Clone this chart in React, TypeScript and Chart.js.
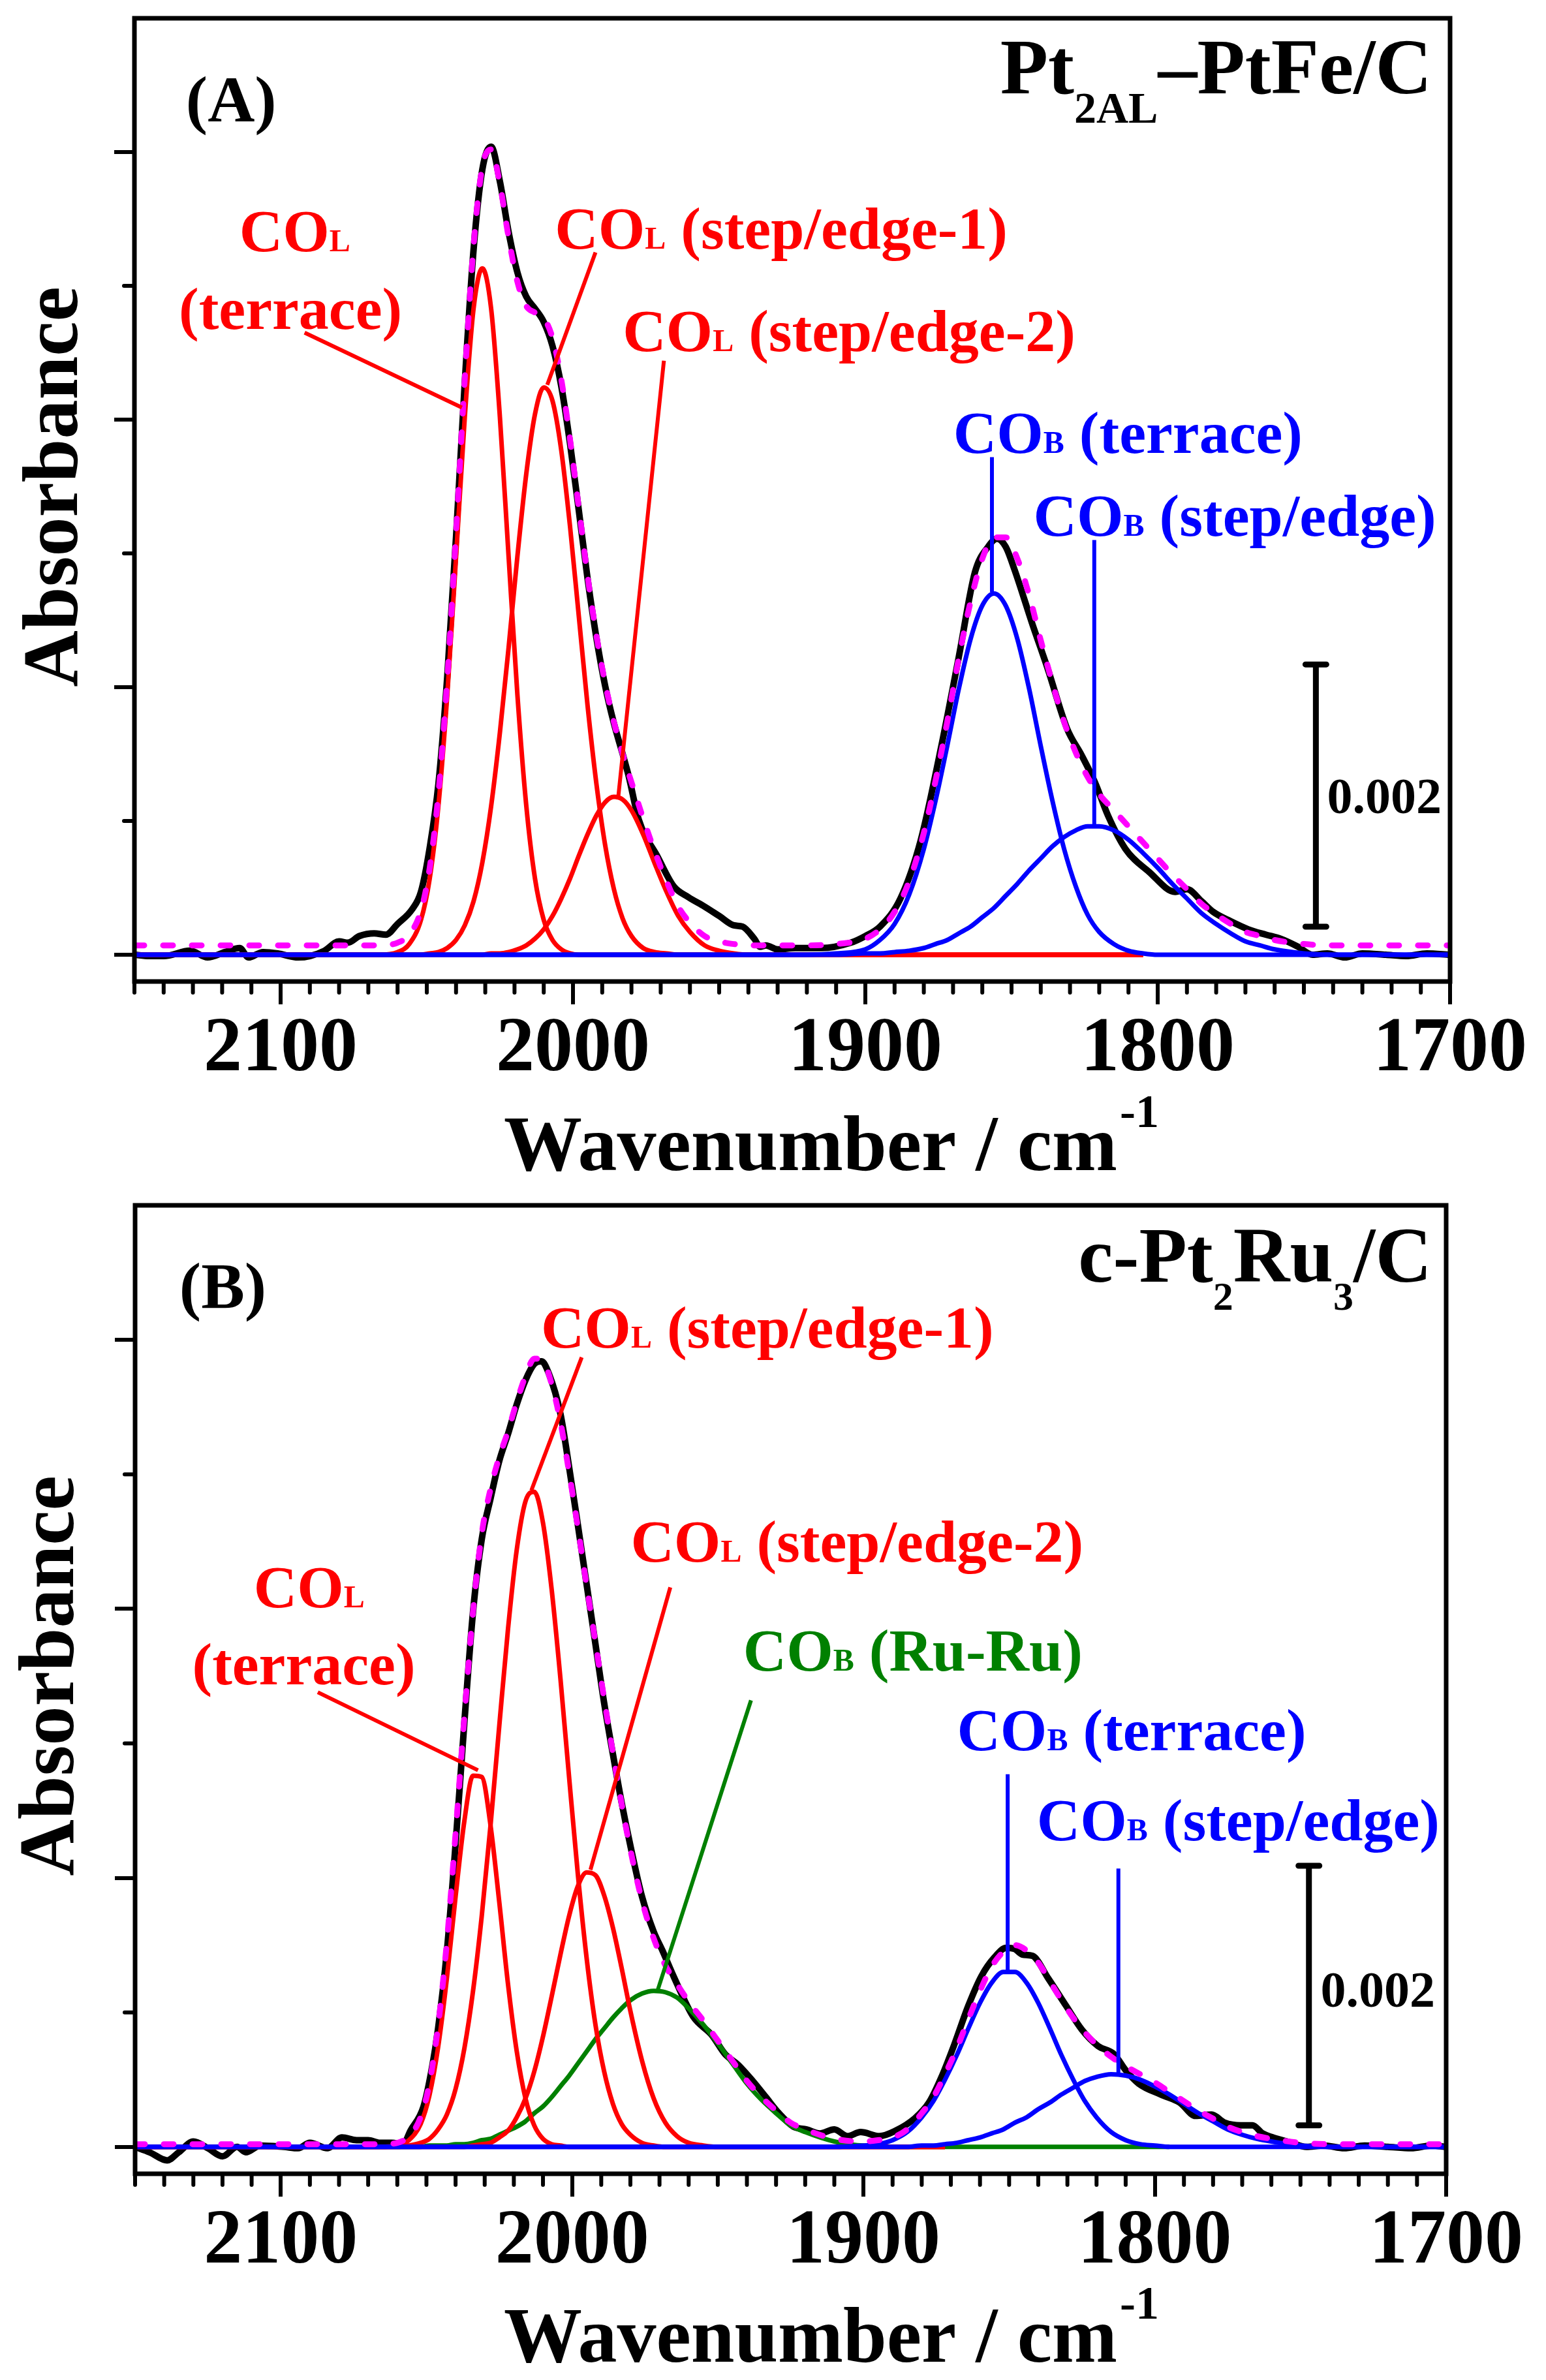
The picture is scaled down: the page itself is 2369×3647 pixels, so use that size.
import React, { useEffect, useRef } from "react";
import { Chart, registerables } from "chart.js";

Chart.register(...registerables);

const FONT = '"Liberation Serif", "Times New Roman", Times, serif';
const RED = "#ff0000";
const BLUE = "#0000ff";
const GREEN = "#008000";
const MAGENTA = "#ff00ff";
const BLACK = "#000000";

// ---------------- axis ticks ----------------
const xMajorTicks = [2100, 2000, 1900, 1800, 1700];
const yMajorTicks = [0, 2, 4, 6];
const yMinorTicks = [1, 3, 5];
const xMinorTicks: number[] = [];
for (let v = 1710; v <= 2150; v += 10) if (v % 100 !== 0) xMinorTicks.push(v);

// ---------------- Panel A : Pt2AL-PtFe/C (absorbance in units of 0.001) ----------------
const rawWaveA = [2150, 2145, 2140, 2131, 2125, 2119, 2114, 2111, 2106, 2101, 2094, 2090, 2085, 2080, 2077, 2073, 2068, 2064, 2060, 2055, 2052, 2049, 2046, 2043, 2040, 2037, 2034, 2031, 2028, 2025, 2022, 2019, 2016, 2013, 2010, 2007, 2004, 2001, 1998, 1995, 1992, 1989, 1986, 1983, 1981, 1977.5, 1971, 1965.5, 1960.5, 1955, 1950, 1945, 1942, 1938, 1936, 1934, 1930, 1924, 1915, 1905, 1900, 1895, 1888, 1881, 1874, 1868, 1862.5, 1858, 1855, 1852, 1849, 1843, 1837.5, 1831, 1826, 1821.5, 1817, 1811, 1803, 1794, 1790, 1785, 1781, 1775, 1769, 1763, 1758, 1752, 1747, 1742, 1736, 1730, 1722, 1715, 1708, 1700];
const rawAbsA = [0.00, -0.01, -0.01, 0.03, -0.02, 0.02, 0.05, -0.02, 0.02, 0.01, -0.02, -0.01, 0.03, 0.10, 0.09, 0.14, 0.16, 0.15, 0.23, 0.34, 0.47, 0.80, 1.28, 2.08, 3.12, 4.28, 5.27, 5.87, 6.04, 5.78, 5.40, 5.10, 4.92, 4.83, 4.73, 4.55, 4.25, 3.82, 3.32, 2.81, 2.37, 2.01, 1.73, 1.50, 1.34, 1.01, 0.73, 0.51, 0.43, 0.36, 0.29, 0.22, 0.21, 0.12, 0.06, 0.07, 0.04, 0.05, 0.05, 0.09, 0.14, 0.21, 0.42, 0.86, 1.56, 2.23, 2.86, 3.05, 3.11, 3.05, 2.88, 2.48, 2.13, 1.69, 1.49, 1.29, 1.04, 0.79, 0.62, 0.47, 0.49, 0.40, 0.32, 0.25, 0.19, 0.15, 0.12, 0.06, 0.00, 0.01, -0.02, 0.01, 0.00, -0.01, 0.01, 0.00];

const fitWaveA = [2150, 2120, 2090, 2075, 2066, 2060, 2056, 2052, 2049, 2046, 2043, 2040, 2037, 2034, 2031, 2028, 2025, 2022, 2019, 2016, 2013, 2010, 2007, 2004, 2001, 1998, 1995, 1992, 1989, 1986, 1983, 1980, 1976, 1972, 1968, 1964, 1960, 1955, 1950, 1945, 1940, 1930, 1920, 1910, 1900, 1895, 1890, 1885, 1880, 1876, 1872, 1868, 1864, 1860, 1856, 1852, 1848, 1844, 1840, 1836, 1832, 1828, 1824, 1820, 1815, 1810, 1805, 1800, 1795, 1790, 1785, 1780, 1775, 1770, 1765, 1760, 1750, 1740, 1730, 1720, 1700];
const fitAbsA = [0.07, 0.07, 0.07, 0.07, 0.07, 0.09, 0.15, 0.33, 0.65, 1.21, 2.06, 3.15, 4.31, 5.30, 5.89, 6.02, 5.76, 5.36, 5.03, 4.85, 4.80, 4.76, 4.61, 4.30, 3.85, 3.34, 2.83, 2.39, 2.03, 1.74, 1.50, 1.29, 1.02, 0.77, 0.55, 0.36, 0.24, 0.14, 0.10, 0.08, 0.07, 0.07, 0.07, 0.08, 0.12, 0.19, 0.32, 0.55, 0.91, 1.30, 1.74, 2.22, 2.64, 2.96, 3.12, 3.12, 2.96, 2.69, 2.35, 2.03, 1.74, 1.51, 1.33, 1.20, 1.08, 0.96, 0.84, 0.72, 0.60, 0.49, 0.38, 0.30, 0.23, 0.17, 0.14, 0.11, 0.08, 0.07, 0.07, 0.07, 0.07];

const terraceWaveA = [2150, 2066, 2060, 2056, 2052, 2049, 2046, 2043, 2040, 2037, 2034, 2031, 2028, 2025, 2022, 2019, 2016, 2013, 2010, 2007, 2004, 2001, 1998, 1805];
const terraceAbsA = [0, 0, 0.02, 0.08, 0.26, 0.57, 1.12, 1.94, 2.97, 4.02, 4.83, 5.13, 4.83, 4.02, 2.97, 1.94, 1.12, 0.57, 0.26, 0.11, 0.04, 0.01, 0, 0];

const step1WaveA = [2150, 2052, 2049, 2046, 2043, 2040, 2037, 2034, 2031, 2028, 2025, 2022, 2019, 2016, 2013, 2010, 2007, 2004, 2001, 1998, 1995, 1992, 1989, 1986, 1983, 1980, 1976, 1972, 1968, 1964, 1805];
const step1AbsA = [0, 0, 0.01, 0.02, 0.05, 0.11, 0.22, 0.40, 0.69, 1.11, 1.66, 2.30, 2.98, 3.59, 4.04, 4.24, 4.14, 3.77, 3.20, 2.53, 1.86, 1.28, 0.82, 0.49, 0.27, 0.14, 0.05, 0.02, 0.01, 0, 0];

const step2WaveA = [2150, 2031, 2028, 2025, 2022, 2019, 2016, 2013, 2010, 2007, 2004, 2001, 1998, 1995, 1992, 1989, 1986, 1983, 1980, 1976, 1972, 1968, 1964, 1960, 1955, 1950, 1945, 1940, 1805];
const step2AbsA = [0, 0, 0.01, 0.01, 0.02, 0.04, 0.07, 0.12, 0.19, 0.29, 0.42, 0.57, 0.74, 0.90, 1.04, 1.14, 1.18, 1.16, 1.08, 0.90, 0.68, 0.47, 0.29, 0.17, 0.07, 0.03, 0.01, 0, 0];

const bTerraceWaveA = [2150, 1920, 1910, 1900, 1895, 1890, 1885, 1880, 1876, 1872, 1868, 1864, 1860, 1856, 1852, 1848, 1844, 1840, 1836, 1832, 1828, 1824, 1820, 1815, 1810, 1805, 1800, 1790, 1700];
const bTerraceAbsA = [0, 0, 0.01, 0.04, 0.11, 0.23, 0.45, 0.79, 1.15, 1.56, 1.99, 2.36, 2.61, 2.70, 2.61, 2.36, 1.99, 1.56, 1.15, 0.79, 0.51, 0.30, 0.17, 0.08, 0.03, 0.01, 0, 0, 0];

const bStepWaveA = [2150, 1910, 1900, 1895, 1890, 1885, 1880, 1876, 1872, 1868, 1864, 1860, 1856, 1852, 1848, 1844, 1840, 1836, 1832, 1828, 1824, 1820, 1815, 1810, 1805, 1800, 1795, 1790, 1785, 1780, 1775, 1770, 1765, 1760, 1750, 1740, 1700];
const bStepAbsA = [0, 0, 0.01, 0.01, 0.02, 0.03, 0.05, 0.08, 0.11, 0.16, 0.21, 0.28, 0.35, 0.44, 0.53, 0.63, 0.72, 0.81, 0.88, 0.93, 0.96, 0.96, 0.93, 0.86, 0.76, 0.65, 0.53, 0.42, 0.31, 0.23, 0.16, 0.10, 0.07, 0.04, 0.01, 0, 0];

// ---------------- Panel B : c-Pt2Ru3/C ----------------
const rawWaveB = [2150, 2145, 2139, 2135, 2130, 2125, 2120, 2115, 2112, 2107, 2099, 2094, 2090, 2084, 2079, 2074, 2070, 2066, 2062, 2058, 2055.5, 2051, 2048, 2046, 2043, 2040, 2037, 2034, 2031, 2028, 2025, 2022, 2019, 2016, 2013, 2010.5, 2008, 2004, 2001, 1998, 1995, 1992, 1989, 1986, 1983, 1980, 1976, 1972, 1969, 1965, 1958.5, 1952, 1947.5, 1943, 1938, 1933.5, 1929, 1924, 1919.5, 1915, 1910, 1905.5, 1901, 1894.5, 1889, 1882.5, 1877.5, 1873, 1869, 1864, 1859.5, 1855, 1851, 1848, 1845.5, 1842, 1836.5, 1830.5, 1825, 1819.5, 1814, 1810, 1805.5, 1798, 1791.5, 1786, 1780.5, 1776, 1770.5, 1766.5, 1763, 1759.5, 1753, 1748, 1742, 1735, 1728, 1720, 1712, 1705, 1700];
const rawAbsB = [0.00, -0.04, -0.10, -0.04, 0.04, -0.01, -0.07, 0.00, -0.04, 0.01, 0.00, -0.01, 0.03, -0.01, 0.07, 0.05, 0.05, 0.03, 0.03, 0.02, 0.12, 0.30, 0.60, 0.88, 1.45, 2.25, 3.15, 3.98, 4.52, 4.82, 5.10, 5.30, 5.52, 5.70, 5.82, 5.84, 5.75, 5.45, 5.05, 4.62, 4.18, 3.74, 3.30, 2.92, 2.56, 2.24, 1.86, 1.60, 1.46, 1.26, 0.97, 0.83, 0.69, 0.61, 0.49, 0.37, 0.25, 0.15, 0.13, 0.10, 0.13, 0.08, 0.11, 0.08, 0.12, 0.21, 0.33, 0.53, 0.75, 1.05, 1.27, 1.41, 1.48, 1.47, 1.43, 1.42, 1.25, 1.05, 0.87, 0.75, 0.69, 0.57, 0.47, 0.39, 0.33, 0.23, 0.24, 0.18, 0.16, 0.16, 0.10, 0.07, 0.03, 0.00, 0.01, -0.01, 0.01, 0.00, -0.01, 0.01, 0.00];

const fitWaveB = [2150, 2120, 2090, 2075, 2066, 2060, 2056, 2052, 2049, 2046, 2043, 2040, 2037, 2034, 2031, 2028, 2025, 2022, 2019, 2016, 2013, 2010, 2007, 2004, 2001, 1998, 1995, 1992, 1989, 1986, 1983, 1980, 1976, 1972, 1968, 1964, 1960, 1955, 1950, 1945, 1940, 1935, 1930, 1925, 1920, 1910, 1900, 1895, 1890, 1885, 1880, 1876, 1872, 1868, 1864, 1860, 1856, 1852, 1848, 1844, 1840, 1836, 1832, 1828, 1824, 1820, 1815, 1810, 1805, 1800, 1795, 1790, 1785, 1780, 1775, 1770, 1765, 1760, 1750, 1740, 1730, 1720, 1700];
const fitAbsB = [0.02, 0.02, 0.02, 0.02, 0.02, 0.03, 0.08, 0.22, 0.47, 0.90, 1.52, 2.33, 3.19, 3.98, 4.56, 4.89, 5.13, 5.32, 5.54, 5.73, 5.86, 5.84, 5.67, 5.39, 5.01, 4.60, 4.17, 3.75, 3.33, 2.93, 2.55, 2.21, 1.83, 1.55, 1.35, 1.21, 1.08, 0.94, 0.79, 0.64, 0.49, 0.37, 0.27, 0.18, 0.13, 0.06, 0.04, 0.05, 0.07, 0.13, 0.25, 0.37, 0.54, 0.73, 0.95, 1.16, 1.34, 1.45, 1.50, 1.46, 1.37, 1.23, 1.09, 0.96, 0.85, 0.76, 0.67, 0.60, 0.54, 0.48, 0.41, 0.34, 0.27, 0.21, 0.15, 0.11, 0.08, 0.06, 0.03, 0.02, 0.02, 0.02, 0.02];

const terraceWaveB = [2150, 2066, 2060, 2056, 2052, 2049, 2046, 2043, 2040, 2037, 2034, 2031, 2028, 2025, 2022, 2019, 2016, 2013, 2010, 2007, 2004, 2001, 1872];
const terraceAbsB = [0, 0, 0.01, 0.05, 0.17, 0.38, 0.74, 1.25, 1.86, 2.42, 2.76, 2.75, 2.39, 1.82, 1.21, 0.71, 0.36, 0.16, 0.06, 0.02, 0.01, 0, 0];

const step1WaveB = [2150, 2060, 2056, 2052, 2049, 2046, 2043, 2040, 2037, 2034, 2031, 2028, 2025, 2022, 2019, 2016, 2013, 2010, 2007, 2004, 2001, 1998, 1995, 1992, 1989, 1986, 1983, 1980, 1976, 1972, 1968, 1872];
const step1AbsB = [0, 0, 0.01, 0.03, 0.06, 0.13, 0.24, 0.43, 0.73, 1.16, 1.72, 2.39, 3.13, 3.85, 4.44, 4.80, 4.87, 4.64, 4.14, 3.48, 2.74, 2.02, 1.40, 0.91, 0.56, 0.32, 0.17, 0.09, 0.03, 0.01, 0, 0];

const step2WaveB = [2150, 2037, 2034, 2031, 2028, 2025, 2022, 2019, 2016, 2013, 2010, 2007, 2004, 2001, 1998, 1995, 1992, 1989, 1986, 1983, 1980, 1976, 1972, 1968, 1964, 1960, 1955, 1950, 1872];
const step2AbsB = [0, 0, 0.01, 0.02, 0.03, 0.07, 0.12, 0.22, 0.36, 0.56, 0.82, 1.12, 1.43, 1.72, 1.94, 2.04, 2.02, 1.87, 1.63, 1.33, 1.01, 0.64, 0.36, 0.18, 0.08, 0.03, 0.01, 0, 0];

const ruWaveB = [2150, 2052, 2049, 2046, 2043, 2040, 2037, 2034, 2031, 2028, 2025, 2022, 2019, 2016, 2013, 2010, 2007, 2004, 2001, 1998, 1995, 1992, 1989, 1986, 1983, 1980, 1976, 1972, 1968, 1964, 1960, 1955, 1950, 1945, 1940, 1935, 1930, 1925, 1920, 1910, 1900, 1895, 1890, 1795];
const ruAbsB = [0, 0, 0.01, 0.01, 0.01, 0.02, 0.02, 0.03, 0.05, 0.06, 0.09, 0.12, 0.15, 0.19, 0.25, 0.30, 0.37, 0.45, 0.53, 0.62, 0.71, 0.80, 0.88, 0.96, 1.03, 1.09, 1.14, 1.16, 1.15, 1.11, 1.03, 0.91, 0.77, 0.62, 0.47, 0.35, 0.25, 0.16, 0.11, 0.04, 0.01, 0.01, 0, 0];

const bTerraceWaveB = [2150, 1910, 1900, 1895, 1890, 1885, 1880, 1876, 1872, 1868, 1864, 1860, 1856, 1852, 1848, 1844, 1840, 1836, 1832, 1828, 1824, 1820, 1815, 1810, 1805, 1800, 1795, 1700];
const bTerraceAbsB = [0, 0, 0.01, 0.02, 0.05, 0.11, 0.22, 0.34, 0.50, 0.68, 0.88, 1.07, 1.22, 1.30, 1.30, 1.22, 1.07, 0.88, 0.68, 0.50, 0.34, 0.22, 0.11, 0.05, 0.02, 0.01, 0, 0];

const bStepWaveB = [2150, 1885, 1880, 1876, 1872, 1868, 1864, 1860, 1856, 1852, 1848, 1844, 1840, 1836, 1832, 1828, 1824, 1820, 1815, 1810, 1805, 1800, 1795, 1790, 1785, 1780, 1775, 1770, 1765, 1760, 1750, 1740, 1700];
const bStepAbsB = [0, 0, 0.01, 0.01, 0.02, 0.03, 0.05, 0.07, 0.10, 0.13, 0.18, 0.22, 0.28, 0.33, 0.39, 0.44, 0.49, 0.52, 0.54, 0.53, 0.50, 0.45, 0.39, 0.32, 0.25, 0.19, 0.13, 0.09, 0.06, 0.04, 0.01, 0, 0];

// ---------------- presentation specs ----------------
type Piece = [string, number, number?];
type TextLabel = { x: number; y: number; color: string; pieces: Piece[]; align?: "left" | "right" };
type Leader = { color: string; from: [number, number]; to: [number, number] };
type LineSpec = { xs: number[]; ys: number[]; color: string; width: number; dash?: number[] };

const COL = (sub: string, rest: string): Piece[] => [["CO", 92], [sub, 48], [rest, 92]];
const FIT_W = 9;
const FIT_DASH = [15, 29];
const COMP_W = 7;
const RAW_W = 10;

const panelA = {
  top: 0, height: 1819, left: 206, right: 2222, areaTop: 28, bottom: 1504,
  yTitleX: 118, titleShiftY: -20, xTitleDY: 289,
  // drawn top-first
  lines: [
    { xs: fitWaveA, ys: fitAbsA, color: MAGENTA, width: FIT_W, dash: FIT_DASH },
    { xs: bStepWaveA, ys: bStepAbsA, color: BLUE, width: COMP_W },
    { xs: bTerraceWaveA, ys: bTerraceAbsA, color: BLUE, width: COMP_W },
    { xs: step2WaveA, ys: step2AbsA, color: RED, width: COMP_W },
    { xs: step1WaveA, ys: step1AbsA, color: RED, width: COMP_W },
    { xs: terraceWaveA, ys: terraceAbsA, color: RED, width: COMP_W },
    { xs: rawWaveA, ys: rawAbsA, color: BLACK, width: RAW_W },
  ] as LineSpec[],
  labels: [
    { x: 2132.4, y: 6.23, color: BLACK, pieces: [["(A)", 100]] },
    { x: 2114.1, y: 5.26, color: RED, pieces: [["CO", 92], ["L", 48]] },
    { x: 2134.8, y: 4.68, color: RED, pieces: [["(terrace)", 92]] },
    { x: 2006.2, y: 5.28, color: RED, pieces: COL("L", " (step/edge-1)") },
    { x: 1983.0, y: 4.51, color: RED, pieces: COL("L", " (step/edge-2)") },
    { x: 1869.9, y: 3.75, color: BLUE, pieces: COL("B", " (terrace)") },
    { x: 1842.5, y: 3.13, color: BLUE, pieces: COL("B", " (step/edge)") },
    { x: 1742.1, y: 1.06, color: BLACK, pieces: [["0.002", 78]] },
    { x: 1706.2, y: 6.44, color: BLACK, align: "right", pieces: [["Pt", 120], ["2AL", 68, 45], ["\u2013PtFe/C", 120]] },
  ] as TextLabel[],
  leaders: [
    { color: RED, from: [2091.8, 4.65], to: [2038.0, 4.09] },
    { color: RED, from: [1992.3, 5.25], to: [2008.8, 4.26] },
    { color: RED, from: [1968.9, 4.44], to: [1984.6, 1.16] },
    { color: BLUE, from: [1856.7, 3.72], to: [1856.7, 2.71] },
    { color: BLUE, from: [1821.7, 3.10], to: [1821.7, 0.97] },
  ] as Leader[],
  bar: { x: 1745.9, y0: 0.21, y1: 2.17 },
};

const panelB = {
  top: 1819, height: 1828, left: 207, right: 2216, areaTop: 28, bottom: 1512,
  yTitleX: 112, titleShiftY: -21, xTitleDY: 288,
  lines: [
    { xs: fitWaveB, ys: fitAbsB, color: MAGENTA, width: FIT_W, dash: FIT_DASH },
    { xs: bStepWaveB, ys: bStepAbsB, color: BLUE, width: COMP_W },
    { xs: bTerraceWaveB, ys: bTerraceAbsB, color: BLUE, width: COMP_W },
    { xs: step2WaveB, ys: step2AbsB, color: RED, width: COMP_W },
    { xs: step1WaveB, ys: step1AbsB, color: RED, width: COMP_W },
    { xs: terraceWaveB, ys: terraceAbsB, color: RED, width: COMP_W },
    { xs: ruWaveB, ys: ruAbsB, color: GREEN, width: COMP_W },
    { xs: rawWaveB, ys: rawAbsB, color: BLACK, width: RAW_W },
  ] as LineSpec[],
  labels: [
    { x: 2134.8, y: 6.24, color: BLACK, pieces: [["(B)", 100]] },
    { x: 2109.3, y: 4.01, color: RED, pieces: [["CO", 92], ["L", 48]] },
    { x: 2130.4, y: 3.44, color: RED, pieces: [["(terrace)", 92]] },
    { x: 2010.7, y: 5.94, color: RED, pieces: COL("L", " (step/edge-1)") },
    { x: 1979.9, y: 4.35, color: RED, pieces: COL("L", " (step/edge-2)") },
    { x: 1941.3, y: 3.54, color: GREEN, pieces: COL("B", " (Ru-Ru)") },
    { x: 1867.9, y: 2.95, color: BLUE, pieces: COL("B", " (terrace)") },
    { x: 1840.5, y: 2.28, color: BLUE, pieces: COL("B", " (step/edge)") },
    { x: 1743.1, y: 1.04, color: BLACK, pieces: [["0.002", 78]] },
    { x: 1704.9, y: 6.43, color: BLACK, align: "right", pieces: [["c-Pt", 120], ["2", 62, 43], ["Ru", 120], ["3", 62, 43], ["/C", 120]] },
  ] as TextLabel[],
  leaders: [
    { color: RED, from: [2087.3, 3.38], to: [2032.3, 2.80] },
    { color: RED, from: [1996.7, 5.87], to: [2014.0, 4.88] },
    { color: RED, from: [1966.3, 4.16], to: [1993.7, 2.06] },
    { color: GREEN, from: [1938.6, 3.32], to: [1970.7, 1.16] },
    { color: BLUE, from: [1850.5, 2.77], to: [1850.5, 1.31] },
    { color: BLUE, from: [1812.5, 2.07], to: [1812.5, 0.54] },
  ] as Leader[],
  bar: { x: 1747.1, y0: 0.16, y1: 2.09 },
};

type PanelSpec = typeof panelA;

function drawPieces(ctx: CanvasRenderingContext2D, pieces: Piece[], x: number, y: number, color: string, align?: string) {
  const widths = pieces.map((p) => {
    ctx.font = `bold ${p[1]}px ${FONT}`;
    return ctx.measureText(p[0]).width;
  });
  const total = widths.reduce((a, b) => a + b, 0);
  let cx = align === "right" ? x - total : x;
  ctx.fillStyle = color;
  ctx.textAlign = "left";
  ctx.textBaseline = "alphabetic";
  pieces.forEach((p, i) => {
    ctx.font = `bold ${p[1]}px ${FONT}`;
    ctx.fillText(p[0], cx, y + (p[2] || 0));
    cx += widths[i];
  });
}

function overlay(spec: PanelSpec) {
  return {
    id: "overlay" + spec.top,
    afterDraw(chart: any) {
      const { ctx, chartArea: ca } = chart;
      const px = (v: number) => chart.scales.x.getPixelForValue(v);
      const py = (v: number) => chart.scales.y.getPixelForValue(v);
      ctx.save();
      // minor ticks
      ctx.strokeStyle = BLACK;
      ctx.lineWidth = 6;
      ctx.lineCap = "round";
      xMinorTicks.forEach((v) => {
        const x = px(v);
        ctx.beginPath();
        ctx.moveTo(x, ca.bottom);
        ctx.lineTo(x, ca.bottom + 17);
        ctx.stroke();
      });
      yMinorTicks.forEach((v) => {
        const y = py(v);
        ctx.beginPath();
        ctx.moveTo(ca.left - 16, y);
        ctx.lineTo(ca.left, y);
        ctx.stroke();
      });
      // leader lines
      ctx.lineCap = "butt";
      ctx.lineWidth = 6;
      spec.leaders.forEach((l) => {
        ctx.strokeStyle = l.color;
        ctx.beginPath();
        ctx.moveTo(px(l.from[0]), py(l.from[1]));
        ctx.lineTo(px(l.to[0]), py(l.to[1]));
        ctx.stroke();
      });
      // scale bar
      ctx.strokeStyle = BLACK;
      ctx.lineWidth = 9;
      const bx = px(spec.bar.x);
      const by0 = py(spec.bar.y0);
      const by1 = py(spec.bar.y1);
      ctx.beginPath();
      ctx.moveTo(bx, by0);
      ctx.lineTo(bx, by1);
      ctx.stroke();
      ctx.lineCap = "round";
      ctx.beginPath();
      ctx.moveTo(bx - 16, by0);
      ctx.lineTo(bx + 16, by0);
      ctx.moveTo(bx - 16, by1);
      ctx.lineTo(bx + 16, by1);
      ctx.stroke();
      // text labels
      spec.labels.forEach((lab) => drawPieces(ctx, lab.pieces, px(lab.x), py(lab.y), lab.color, lab.align));
      // frame
      ctx.strokeStyle = BLACK;
      ctx.lineWidth = 7;
      ctx.lineJoin = "miter";
      ctx.lineCap = "square";
      ctx.strokeRect(ca.left, ca.top, ca.right - ca.left, ca.bottom - ca.top);
      // y axis title
      ctx.save();
      ctx.translate(spec.yTitleX, (ca.top + ca.bottom) / 2 + spec.titleShiftY);
      ctx.rotate(-Math.PI / 2);
      ctx.font = `bold 120px ${FONT}`;
      ctx.fillStyle = BLACK;
      ctx.textAlign = "center";
      ctx.textBaseline = "alphabetic";
      ctx.fillText("Absorbance", 0, 0);
      ctx.restore();
      // x axis title
      const tx = 772;
      const ty = ca.bottom + spec.xTitleDY;
      ctx.font = `bold 120px ${FONT}`;
      ctx.fillStyle = BLACK;
      ctx.textAlign = "left";
      ctx.textBaseline = "alphabetic";
      ctx.fillText("Wavenumber / cm", tx, ty);
      const w = ctx.measureText("Wavenumber / cm").width;
      ctx.font = `bold 72px ${FONT}`;
      ctx.fillText("-1", tx + w + 4, ty - 66);
      ctx.restore();
    },
  };
}

function Panel({ spec }: { spec: PanelSpec }) {
  const ref = useRef<HTMLCanvasElement>(null);
  useEffect(() => {
    const canvas = ref.current;
    if (!canvas) return;
    const chart = new Chart(canvas, {
      type: "line",
      data: {
        datasets: spec.lines.map((l) => ({
          data: l.xs.map((x, i) => ({ x, y: l.ys[i] })),
          borderColor: l.color,
          borderWidth: l.width,
          borderDash: l.dash || [],
          borderCapStyle: l.dash ? "round" : "butt",
          borderJoinStyle: "round",
          pointRadius: 0,
          fill: false,
          cubicInterpolationMode: "monotone",
        })) as any,
      },
      options: {
        responsive: false,
        animation: false,
        devicePixelRatio: 1,
        events: [],
        layout: { autoPadding: false, padding: { left: 0, top: spec.areaTop, right: 2369 - spec.right, bottom: 0 } },
        plugins: { legend: { display: false }, tooltip: { enabled: false }, title: { display: false } },
        scales: {
          x: {
            type: "linear",
            min: 1700,
            max: 2150,
            reverse: true,
            afterBuildTicks: (s: any) => { s.ticks = xMajorTicks.map((value) => ({ value })); },
            afterFit: (s: any) => { s.height = spec.height - spec.bottom; },
            ticks: {
              autoSkip: false,
              maxRotation: 0,
              minRotation: 0,
              padding: 0,
              color: BLACK,
              font: { family: FONT, size: 118, weight: "bold" },
              callback: (v: any) => String(v),
            },
            grid: { drawOnChartArea: false, drawTicks: true, tickLength: 35, lineWidth: 6, color: BLACK },
            border: { display: false },
          },
          y: {
            type: "linear",
            min: -0.2,
            max: 7.0,
            afterBuildTicks: (s: any) => { s.ticks = yMajorTicks.map((value) => ({ value })); },
            afterFit: (s: any) => { s.width = spec.left; },
            ticks: { display: false },
            grid: { drawOnChartArea: false, drawTicks: true, tickLength: 31, lineWidth: 6, color: BLACK },
            border: { display: false },
          },
        },
      } as any,
      plugins: [overlay(spec)],
    });
    return () => chart.destroy();
  }, [spec]);
  return (
    <canvas
      ref={ref}
      width={2369}
      height={spec.height}
      style={{ position: "absolute", left: 0, top: spec.top, width: 2369, height: spec.height }}
    />
  );
}

export default function App() {
  return (
    <div style={{ position: "absolute", left: 0, top: 0, width: 2369, height: 3647, background: "#ffffff", overflow: "hidden" }}>
      <Panel spec={panelA} />
      <Panel spec={panelB} />
    </div>
  );
}
